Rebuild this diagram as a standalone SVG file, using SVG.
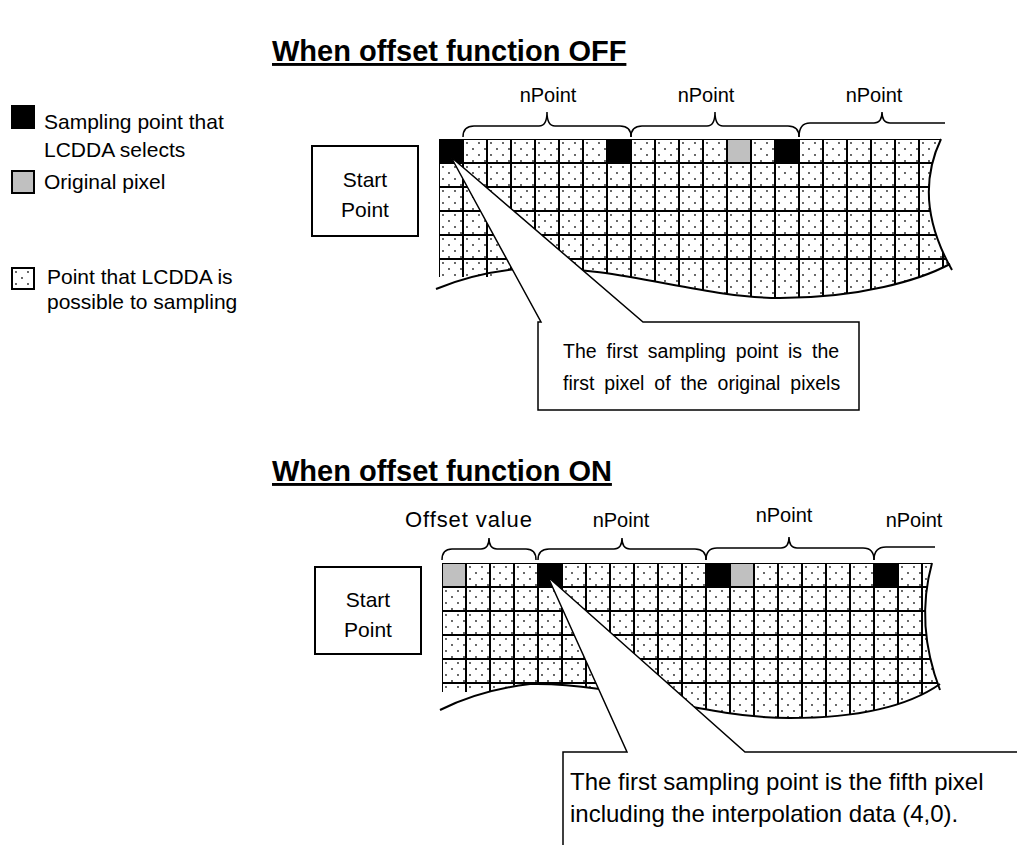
<svg xmlns="http://www.w3.org/2000/svg" width="1017" height="845" viewBox="0 0 1017 845">
<style>
text{font-family:"Liberation Sans",Arial,sans-serif;fill:#000}
.t{font-size:29px;font-weight:bold;text-decoration:underline}
.l{font-size:20px}
.lg{font-size:21px}
.gl{stroke:#000;stroke-width:2;fill:none}
.ln{stroke:#000;stroke-width:2;fill:none}
.br{stroke:#000;stroke-width:1.5;fill:none}
.box{stroke:#000;stroke-width:2;fill:#fff}
.co{stroke:#000;stroke-width:1.5;fill:#fff;stroke-linejoin:miter}
.blk{fill:#000}
.gry{fill:#c0c0c0}
</style>
<defs>
<pattern id="dotsA" x="439" y="139" width="12" height="12" patternUnits="userSpaceOnUse"><rect width="12" height="12" fill="#fff"/><circle cx="4" cy="4" r="0.9" fill="#222"/><circle cx="10" cy="10" r="0.9" fill="#222"/></pattern>
<pattern id="dotsB" x="442" y="563" width="12" height="12" patternUnits="userSpaceOnUse"><rect width="12" height="12" fill="#fff"/><circle cx="4" cy="4" r="0.9" fill="#222"/><circle cx="10" cy="10" r="0.9" fill="#222"/></pattern>
<pattern id="dotsL" x="12" y="268" width="12" height="12" patternUnits="userSpaceOnUse"><rect width="12" height="12" fill="#fff"/><circle cx="4" cy="4" r="0.9" fill="#222"/><circle cx="10" cy="10" r="0.9" fill="#222"/></pattern>
<clipPath id="clipA"><path d="M439,139 L941,139 Q912,200 952,270 L950,264 C920,280 860,298 780,298 C700,298 620,266 530,268 L500,271 L490,277 L439,277 Z"/></clipPath>
<clipPath id="clipB"><path d="M442,563 L932,563 Q915,625 940,690 L940,684 C910,705 860,718 790,718 C700,718 620,682 530,684 L500,687 L490,692 L442,692 Z"/></clipPath>
</defs>
<rect width="1017" height="845" fill="#fff"/>

<g id="title-off"><text class="t" x="272" y="61">When offset function OFF</text></g>
<g id="title-on"><text class="t" x="272" y="481">When offset function ON</text></g>

<g id="legend">
<rect class="blk" x="11" y="105" width="24" height="24"/>
<text class="lg" x="44" y="129">Sampling point that</text>
<text class="lg" x="44" y="157">LCDDA selects</text>
<rect class="gry" x="12" y="171" width="22" height="22" stroke="#000" stroke-width="2"/>
<text class="lg" x="44" y="189">Original pixel</text>
<rect x="12" y="268" width="22" height="21" fill="url(#dotsL)" stroke="#000" stroke-width="2"/>
<text class="lg" x="47" y="284">Point that LCDDA is</text>
<text class="lg" x="47" y="309">possible to sampling</text>
</g>

<g id="start-off">
<rect class="box" x="312" y="146" width="106" height="90"/>
<text class="lg" x="365" y="187" text-anchor="middle">Start</text>
<text class="lg" x="365" y="217" text-anchor="middle">Point</text>
</g>
<g id="start-on">
<rect class="box" x="315" y="567" width="106" height="87"/>
<text class="lg" x="368" y="607" text-anchor="middle">Start</text>
<text class="lg" x="368" y="637" text-anchor="middle">Point</text>
</g>

<g id="grid-off">
<g clip-path="url(#clipA)">
<rect x="439" y="139" width="520" height="170" fill="url(#dotsA)"/>
<rect class="blk" x="439" y="139" width="24" height="24"/>
<rect class="blk" x="607" y="139" width="24" height="24"/>
<rect class="gry" x="727" y="139" width="24" height="24"/>
<rect class="blk" x="775" y="139" width="24" height="24"/>
<path class="gl" d="M439,139V310M463,139V310M487,139V310M511,139V310M535,139V310M559,139V310M583,139V310M607,139V310M631,139V310M655,139V310M679,139V310M703,139V310M727,139V310M751,139V310M775,139V310M799,139V310M823,139V310M847,139V310M871,139V310M895,139V310M919,139V310M943,139V310M439,139H960M439,163H960M439,187H960M439,211H960M439,235H960M439,259H960"/>
</g>
<path class="ln" d="M941,139 Q912,200 952,270"/>
<path class="ln" d="M436,289 Q480,271 530,268 C620,266 700,298 780,298 C860,298 920,280 950,264"/>
</g>

<g id="grid-on">
<g clip-path="url(#clipB)">
<rect x="442" y="563" width="520" height="170" fill="url(#dotsB)"/>
<rect class="gry" x="442" y="563" width="24" height="24"/>
<rect class="blk" x="538" y="563" width="24" height="24"/>
<rect class="blk" x="706" y="563" width="24" height="24"/>
<rect class="gry" x="730" y="563" width="24" height="24"/>
<rect class="blk" x="874" y="563" width="24" height="24"/>
<path class="gl" d="M442,563V730M466,563V730M490,563V730M514,563V730M538,563V730M562,563V730M586,563V730M610,563V730M634,563V730M658,563V730M682,563V730M706,563V730M730,563V730M754,563V730M778,563V730M802,563V730M826,563V730M850,563V730M874,563V730M898,563V730M922,563V730M946,563V730M442,563H960M442,587H960M442,611H960M442,635H960M442,659H960M442,683H960"/>
</g>
<path class="ln" d="M932,563 Q915,625 940,690"/>
<path class="ln" d="M440,710 Q480,690 530,684 C620,682 700,718 790,718 C860,718 910,705 940,684"/>
</g>

<g id="braces-off">
<path class="br" d="M463,137 Q463,126 474,126 L539,126 Q547,126 547,112 Q547,126 555,126 L620,126 Q631,126 631,137"/>
<path class="br" d="M631,137 Q631,126 642,126 L707,126 Q715,126 715,112 Q715,126 723,126 L788,126 Q799,126 799,137"/>
<path class="br" d="M799,137 Q799,123 810,123 L874,123 Q882,123 882,112 Q882,123 890,123 L945,123"/>
<text class="l" x="548" y="102" text-anchor="middle">nPoint</text>
<text class="l" x="706" y="102" text-anchor="middle">nPoint</text>
<text class="l" x="874" y="102" text-anchor="middle">nPoint</text>
</g>

<g id="braces-on">
<path class="br" d="M442,560 Q442,549 452,549 L481,549 Q489,549 489,538 Q489,549 497,549 L526,549 Q536,549 536,560"/>
<path class="br" d="M538,560 Q538,549 549,549 L614,549 Q622,549 622,538 Q622,549 630,549 L695,549 Q706,549 706,560"/>
<path class="br" d="M706,560 Q706,548 717,548 L781,548 Q789,548 789,537 Q789,548 797,548 L863,548 Q874,548 874,560"/>
<path class="br" d="M874,560 Q874,547 886,547 L935,547"/>
<text x="405" y="527" style="font-size:22px" textLength="127" lengthAdjust="spacing">Offset value</text>
<text class="l" x="621" y="527" text-anchor="middle">nPoint</text>
<text class="l" x="784" y="522" text-anchor="middle">nPoint</text>
<text class="l" x="914" y="527" text-anchor="middle">nPoint</text>
</g>

<g id="callout-off">
<path class="co" d="M451,157 L643,322 L859,322 L859,410 L538,410 L538,322 L541,322 Z"/>
<text x="563" y="358" style="font-size:19.5px;word-spacing:4.5px">The first sampling point is the</text>
<text x="563" y="390" style="font-size:19.5px;word-spacing:4.5px">first pixel of the original pixels</text>
</g>

<g id="callout-on">
<path class="co" d="M548,577 L745,752 L1020,752 L1020,850 L563,850 L563,752 L627,752 Z"/>
<text x="570" y="790" style="font-size:24px">The first sampling point is the fifth pixel</text>
<text x="570" y="822" style="font-size:24px">including the interpolation data (4,0).</text>
</g>
</svg>
